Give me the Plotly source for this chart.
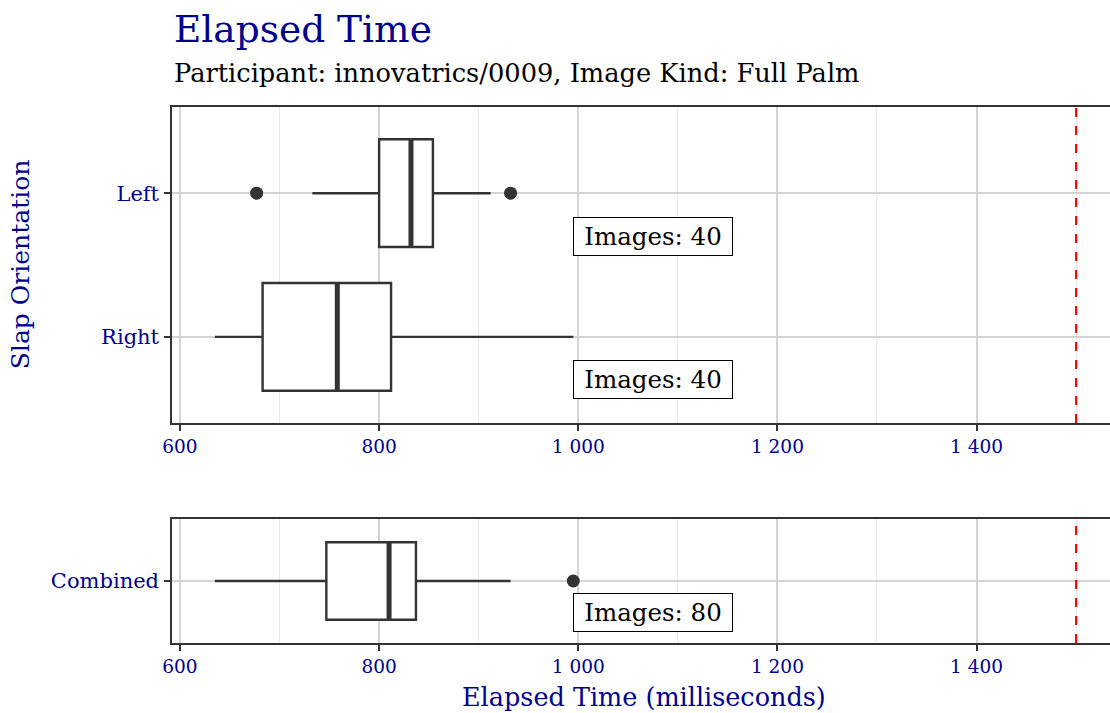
import plotly.graph_objects as go
from plotly.subplots import make_subplots

# --- data ---
orientations = ["Left", "Right"]
q1 = [800, 683]
median = [832, 758]
q3 = [854, 812]
low_whisker = [733, 635]
high_whisker = [912, 995]
outliers_x = [[677, 932], []]
image_counts = [40, 40]

combined_label = "Combined"
comb_q1, comb_median, comb_q3 = 747, 810, 837
comb_low, comb_high = 635, 932
comb_outliers = [995]
comb_count = 80

threshold = 1500
x_ticks = [600, 800, 1000, 1200, 1400]
x_tick_text = ["600", "800", "1 000", "1 200", "1 400"]

FONT = "DejaVu Serif"
NAVY = "#00008B"
DARK = "#333333"
BOX_W = 0.75

fig = make_subplots(rows=2, cols=1)

label_x = max(high_whisker + [comb_high] + comb_outliers + [v for o in outliers_x for v in o])

def add_box(row, ypos, a, med, b, lo, hi, outs, count):
    fig.add_trace(go.Box(
        y=[ypos], q1=[a], median=[med], q3=[b], lowerfence=[lo], upperfence=[hi],
        orientation="h", width=BOX_W, whiskerwidth=0,
        fillcolor="white", line=dict(color=DARK, width=2.4),
        boxpoints=False, showlegend=False, hoverinfo="skip",
    ), row=row, col=1)
    # thicker median bar, like ggplot
    fig.add_trace(go.Scatter(
        x=[med, med], y=[ypos - BOX_W / 2, ypos + BOX_W / 2], mode="lines",
        line=dict(color=DARK, width=5), showlegend=False, hoverinfo="skip",
    ), row=row, col=1)
    if outs:
        fig.add_trace(go.Scatter(
            x=outs, y=[ypos] * len(outs), mode="markers",
            marker=dict(color=DARK, size=13), showlegend=False, hoverinfo="skip",
        ), row=row, col=1)
    fig.add_annotation(
        x=label_x, y=ypos + 0.3, text=f"Images: {count}", showarrow=False,
        xanchor="left", yanchor="middle", bgcolor="white", bordercolor="black",
        borderwidth=1, borderpad=4, width=150,
        font=dict(family=FONT, size=24.5, color="black"),
        row=row, col=1,
    )

for i, name in enumerate(orientations):
    add_box(1, i + 1, q1[i], median[i], q3[i], low_whisker[i], high_whisker[i], outliers_x[i], image_counts[i])
add_box(2, 1, comb_q1, comb_median, comb_q3, comb_low, comb_high, comb_outliers, comb_count)

for r in (1, 2):
    fig.add_vline(x=threshold, line=dict(color="red", dash="dash", width=2.2), row=r, col=1)

xaxis_common = dict(
    range=[592, 1534], tickvals=x_ticks, ticktext=x_tick_text,
    showline=True, linecolor=DARK, linewidth=1.5, mirror=True,
    ticks="outside", ticklen=6, tickcolor=DARK, tickwidth=1.5,
    showgrid=True, gridcolor="#D4D4D4", gridwidth=1.5,
    minor=dict(dtick=100, tick0=600, showgrid=True, gridcolor="#EBEBEB", gridwidth=1, ticks=""),
    tickfont=dict(family=FONT, size=18.5, color=NAVY), zeroline=False, automargin=False,
)
fig.update_xaxes(**xaxis_common, row=1, col=1)
fig.update_xaxes(**xaxis_common, row=2, col=1)

yaxis_common = dict(
    showline=True, linecolor=DARK, linewidth=1.5, mirror=False,
    ticks="outside", ticklen=6, tickcolor=DARK, tickwidth=1.5,
    showgrid=True, gridcolor="#D4D4D4", gridwidth=1.5, zeroline=False,
    tickfont=dict(family=FONT, size=21, color=NAVY), automargin=False,
    ticklabelstandoff=1,
)
fig.update_yaxes(**yaxis_common, range=[2.6, 0.4], tickvals=[1, 2], ticktext=orientations, row=1, col=1)
fig.update_yaxes(**yaxis_common, range=[1.6, 0.4], tickvals=[1], ticktext=[combined_label], row=2, col=1)

fig.update_layout(
    width=1110, height=713, plot_bgcolor="white", paper_bgcolor="white",
    margin=dict(l=172, r=0, t=107, b=70, autoexpand=False),
    font=dict(family=FONT),
)
fig.update_layout(
    yaxis=dict(domain=[0.4104, 1.0]),
    yaxis2=dict(domain=[0.0, 0.2313]),
)
fig.add_annotation(xref="paper", yref="paper", x=0, y=1, yshift=102, xanchor="left", yanchor="top",
                   text="Elapsed Time", showarrow=False, font=dict(family=FONT, size=37.5, color=NAVY))
fig.add_annotation(xref="paper", yref="paper", x=0, y=1, yshift=51, xanchor="left", yanchor="top",
                   text="Participant: innovatrics/0009, Image Kind: Full Palm", showarrow=False,
                   font=dict(family=FONT, size=25.7, color="black"))
fig.add_annotation(xref="paper", yref="paper", x=-0.162, y=0.705, xanchor="center", yanchor="middle",
                   text="Slap Orientation", showarrow=False, textangle=-90,
                   font=dict(family=FONT, size=25, color=NAVY))
fig.add_annotation(xref="paper", yref="paper", x=0.503, y=0, yshift=-37, xanchor="center", yanchor="top",
                   text="Elapsed Time (milliseconds)", showarrow=False,
                   font=dict(family=FONT, size=25.5, color=NAVY))

fig.write_html(
    "out.html",
    config={"displayModeBar": False},
    post_script="document.body.style.margin='0';document.body.style.overflow='hidden';",
)
